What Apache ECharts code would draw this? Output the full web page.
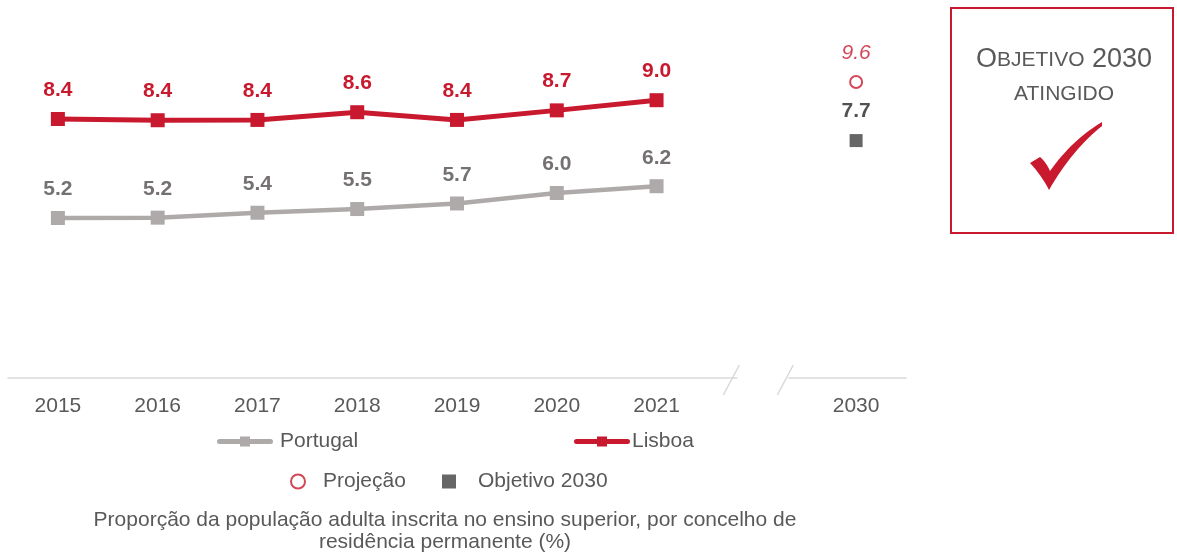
<!DOCTYPE html>
<html>
<head>
<meta charset="utf-8">
<script src="https://cdn.jsdelivr.net/npm/echarts@6/dist/echarts.min.js"></script>
<style>
html,body{margin:0;padding:0;background:#fff;}
#c{width:1177px;height:553px;}
</style>
</head>
<body>
<div id="c"></div>
<script>
var categories = ['2015','2016','2017','2018','2019','2020','2021','','2030'];
var portugal = [5.19, 5.2, 5.36, 5.48, 5.66, 6.0, 6.22, null, null];
var lisboa = [8.40, 8.36, 8.37, 8.62, 8.37, 8.68, 9.01, null, null];
var projecao = [['2030', 9.6]];
var objetivo = [['2030', 7.7]];
var footer = 'Proporção da população adulta inscrita no ensino superior, por concelho de\nresidência permanente (%)';

var RED = '#C8192E';
var GRAY = '#AEAAAA';
var TXT = '#595959';
var FONT = '"Liberation Sans", Arial, sans-serif';
var FS = 21;

var LINE_ICON = 'path://M2.5,2.5 L53.5,2.5 A2.5,2.5 0 0 1 53.5,7.5 L2.5,7.5 A2.5,2.5 0 0 1 2.5,2.5 Z M23,0 L33,0 L33,10 L23,10 Z';

var chart = echarts.init(document.getElementById('c'), null, {renderer:'canvas'});

function fmt(p){ var v = Array.isArray(p.value) ? p.value[1] : p.value; return v == null ? '' : v.toFixed(1); }

var option = {
  backgroundColor: '#fff',
  animation: false,
  textStyle: {fontFamily: FONT},
  title: {
    text: footer,
    left: 445, top: 509,
    textAlign: 'center',
    padding: 0,
    textStyle: {fontFamily: FONT, fontSize: FS, fontWeight: 'normal', color: TXT, lineHeight: 22}
  },
  legend: [
    {data: [{name: 'Portugal', icon: LINE_ICON}], left: 217, top: 431, padding: 0, itemWidth: 56, itemHeight: 10,
     textStyle: {fontFamily: FONT, fontSize: FS, color: TXT, padding: [0,0,0,2]}},
    {data: [{name: 'Lisboa', icon: LINE_ICON}], left: 574, top: 431, padding: 0, itemWidth: 56, itemHeight: 10,
     textStyle: {fontFamily: FONT, fontSize: FS, color: TXT, padding: [0,0,0,-3]}},
    {data: ['Projeção'], left: 290, top: 471, padding: 0, itemWidth: 14, itemHeight: 14,
     textStyle: {fontFamily: FONT, fontSize: FS, color: TXT, padding: [0,0,0,13]}},
    {data: ['Objetivo 2030'], left: 442, top: 471, padding: 0, itemWidth: 14, itemHeight: 14,
     textStyle: {fontFamily: FONT, fontSize: FS, color: TXT, padding: [0,0,0,17]}}
  ],
  grid: {left: 8, right: 271, top: 8, bottom: 175, containLabel: false},
  xAxis: {
    type: 'category',
    data: categories,
    boundaryGap: true,
    axisLine: {lineStyle: {color: '#D9D9D9', width: 1.5}},
    axisTick: {show: false},
    axisLabel: {fontFamily: FONT, fontSize: FS, color: TXT, margin: 18, interval: 0}
  },
  yAxis: {
    type: 'value', min: 0, max: 12,
    show: false, splitLine: {show: false}
  },
  series: [
    {
      name: 'Portugal', type: 'line', data: portugal,
      symbol: 'rect', symbolSize: 14,
      lineStyle: {color: GRAY, width: 4.5},
      itemStyle: {color: GRAY},
      label: {show: true, position: 'top', distance: 11,
        fontFamily: FONT, fontSize: FS, fontWeight: 'bold', color: '#757171', formatter: fmt}
    },
    {
      name: 'Lisboa', type: 'line', data: lisboa,
      symbol: 'rect', symbolSize: 14,
      lineStyle: {color: RED, width: 5},
      itemStyle: {color: RED},
      label: {show: true, position: 'top', distance: 11.5,
        fontFamily: FONT, fontSize: FS, fontWeight: 'bold', color: RED, formatter: fmt}
    },
    {
      name: 'Projeção', type: 'scatter', data: projecao,
      symbol: 'circle', symbolSize: 12,
      itemStyle: {color: '#fff', borderColor: RED, borderWidth: 2},
      label: {show: true, position: 'top', distance: 11.5,
        fontFamily: FONT, fontSize: FS, fontStyle: 'italic', color: RED, formatter: fmt}
    },
    {
      name: 'Objetivo 2030', type: 'scatter', data: objetivo,
      symbol: 'rect', symbolSize: 13,
      itemStyle: {color: '#404040'},
      label: {show: true, position: 'top', distance: 12,
        fontFamily: FONT, fontSize: FS, fontWeight: 'bold', color: '#262626', formatter: fmt}
    }
  ]
};
chart.setOption(option);

// sample a quadratic bezier into points (decoration only)
function quad(p0, c, p1, n) {
  var pts = [];
  for (var i = 1; i <= n; i++) {
    var t = i / n, u = 1 - t;
    pts.push([u*u*p0[0] + 2*u*t*c[0] + t*t*p1[0], u*u*p0[1] + 2*u*t*c[1] + t*t*p1[1]]);
  }
  return pts;
}
var check = [[1030,163],[1040,157]];
check = check.concat(quad([1040,157],[1046,162],[1050,171],8));
check = check.concat(quad([1050,171],[1072,140],[1102,122],16));
check.push([1102,126]);
check = check.concat(quad([1102,126],[1072,150],[1049,190],16));
check = check.concat(quad([1049,190],[1042,176],[1030,163],8));

// axis break decoration tied to the axis
var gapIdx = categories.indexOf('');
var xc = chart.convertToPixel({xAxisIndex: 0}, gapIdx);
var yc = chart.convertToPixel({yAxisIndex: 0}, 0);
chart.setOption({
  graphic: [
    {type: 'rect', shape: {x: xc - 19, y: yc - 4, width: 51, height: 8}, style: {fill: '#fff'}, z: 100},
    {type: 'line', shape: {x1: xc - 17, y1: yc - 13, x2: xc - 33, y2: yc + 17}, style: {stroke: '#D9D9D9', lineWidth: 1.5}, z: 101},
    {type: 'line', shape: {x1: xc + 37, y1: yc - 13, x2: xc + 21, y2: yc + 17}, style: {stroke: '#D9D9D9', lineWidth: 1.5}, z: 101},
    {type: 'rect', shape: {x: 951, y: 8, width: 222, height: 225}, style: {fill: 'none', stroke: RED, lineWidth: 2}, z: 100},
    {type: 'text', x: 1064, y: 60, style: {
      text: '{a|O}{b|BJETIVO}{a| 2030}', align: 'center', verticalAlign: 'middle',
      rich: {a: {fontFamily: FONT, fontSize: 27, fill: TXT}, b: {fontFamily: FONT, fontSize: 21, fill: TXT}}
    }, z: 101},
    {type: 'text', x: 1064, y: 94, style: {
      text: 'ATINGIDO', align: 'center', verticalAlign: 'middle',
      font: '21px ' + FONT, fill: TXT
    }, z: 101},
    {type: 'polygon', shape: {points: check}, style: {fill: RED}, z: 101}
  ]
});
</script>
</body>
</html>
